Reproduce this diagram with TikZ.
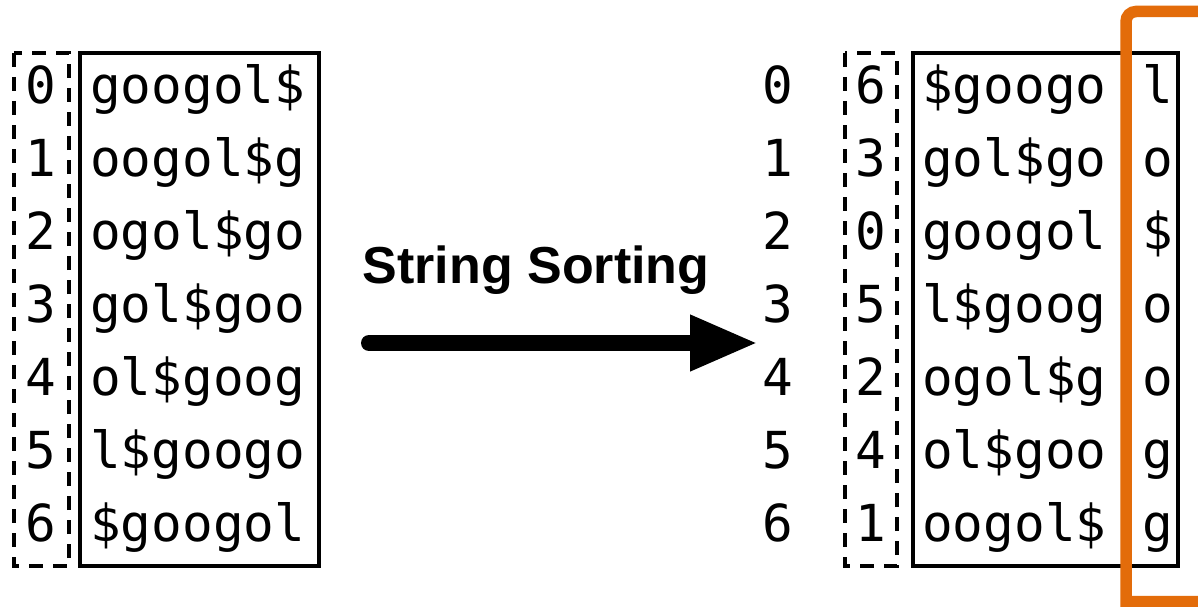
\documentclass[tikz,border=0pt]{standalone}
\usepackage{fontspec}
\newfontfamily\monof{DejaVu Sans Mono}
\newfontfamily\labf{Liberation Sans}
\usetikzlibrary{arrows.meta}
\definecolor{hlorange}{RGB}{227,108,10}
\begin{document}
\begin{tikzpicture}[x=1pt,y=-1pt,
  mono/.style={font=\monof\fontsize{51}{51}\selectfont, inner sep=0pt, anchor=base west},
  idx/.style={font=\monof\fontsize{51}{51}\selectfont, inner sep=0pt, anchor=base},
  dashbox/.style={draw, line width=3.6pt, dash pattern=on 14pt off 10pt},
  solidbox/.style={draw, line width=3.4pt},
  hlbox/.style={draw=hlorange, line width=11.5pt},
  bigarrow/.style={line width=16pt, line cap=round, -{Triangle[length=68pt,width=52pt]}},
  title/.style={font=\labf\bfseries\fontsize{52}{52}\selectfont, inner sep=0pt, anchor=base}]
\useasboundingbox (0,0) rectangle (1198,607);
\fill[white] (0,0) rectangle (1198,607);
% left table
\draw[dashbox] (14,53) rectangle (69,566);
\draw[solidbox] (80,53) rectangle (319,566);
\foreach \i/\s [count=\k from 0] in {0/googol\$,1/oogol\$g,2/ogol\$go,3/gol\$goo,4/ol\$goog,5/l\$googo,6/\$googol}{
  \node[idx] (li\k) at (41,{103+73*\k}) {\i};
  \node[mono] (ls\k) at (90,{103+73*\k}) {\s};
}
% right table
\draw[dashbox] (845,53) rectangle (897,566);
\draw[solidbox] (913,53) rectangle (1178,566);
\foreach \r/\i/\s/\c [count=\k from 0] in {0/6/\$googo/l,1/3/gol\$go/o,2/0/googol/\$,3/5/l\$goog/o,4/2/ogol\$g/o,5/4/ol\$goo/g,6/1/oogol\$/g}{
  \node[idx] (rr\k) at (778,{103+73*\k}) {\r};
  \node[idx] (ri\k) at (871,{103+73*\k}) {\i};
  \node[mono] (rs\k) at (922,{103+73*\k}) {\s};
  \node[mono] (rl\k) at (1142,{103+73*\k}) {\c};
}
% highlight of last column
\draw[hlbox] (1240,11.5) [rounded corners=10pt]-- (1126,11.5) [sharp corners]-- (1126,601.5) -- (1240,601.5);
% arrow and label
\coordinate (aS) at (369,343);
\coordinate (aE) at (758,343);
\draw[bigarrow] (aS) -- (aE);
\node[title] (lab) at (536,283) {String Sorting};
\end{tikzpicture}
\end{document}
